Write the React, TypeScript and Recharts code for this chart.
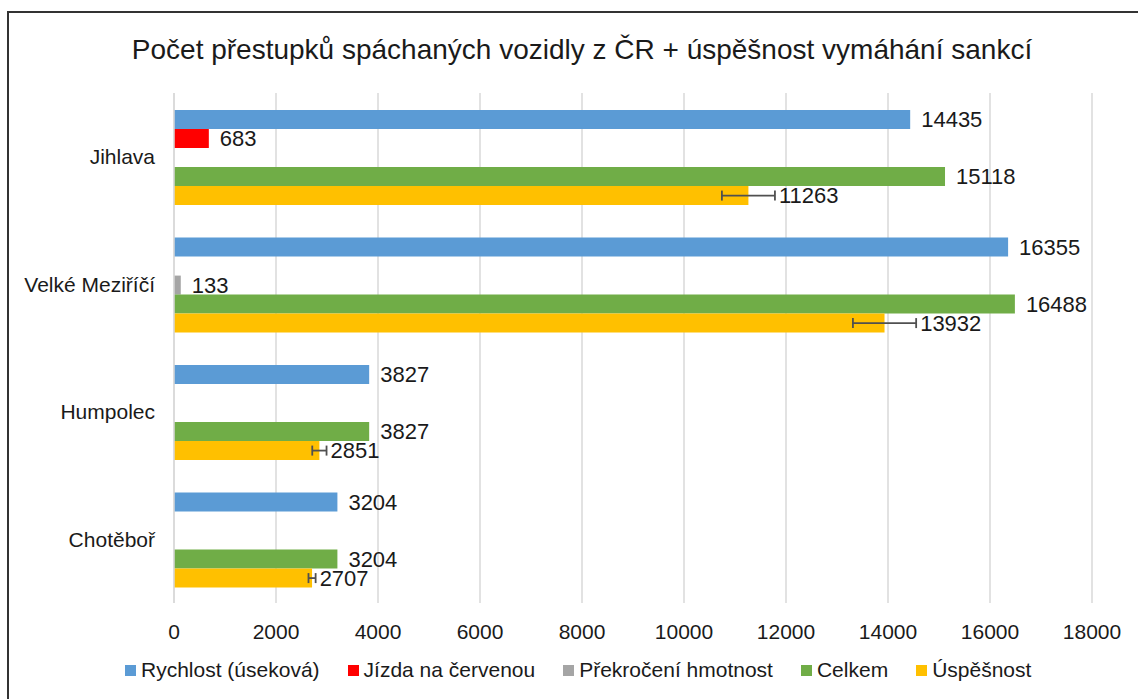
import React from 'react';
import { BarChart, Bar, XAxis, YAxis, CartesianGrid, Legend, LabelList, ErrorBar } from 'recharts';

const cities = ['Jihlava', 'Velké Meziříčí', 'Humpolec', 'Chotěboř'];
const rychlost = [14435, 16355, 3827, 3204];
const cervena = [683, null, null, null];
const hmotnost = [null, 133, null, null];
const celkem = [15118, 16488, 3827, 3204];
const uspesnost = [11263, 13932, 2851, 2707];
const uspesnostErr = [520, 620, 140, 70];
const xTicks = [0, 2000, 4000, 6000, 8000, 10000, 12000, 14000, 16000, 18000];

const series = [
  { key: 'rychlost', name: 'Rychlost (úseková)', color: '#5B9BD5' },
  { key: 'cervena', name: 'Jízda na červenou', color: '#FF0000' },
  { key: 'hmotnost', name: 'Překročení hmotnost', color: '#A5A5A5' },
  { key: 'celkem', name: 'Celkem', color: '#70AD47' },
  { key: 'uspesnost', name: 'Úspěšnost', color: '#FFC000' },
];

const data = cities.map((city, i) => ({
  city,
  rychlost: rychlost[i],
  cervena: cervena[i],
  hmotnost: hmotnost[i],
  celkem: celkem[i],
  uspesnost: uspesnost[i],
  uspesnostErr: uspesnostErr[i],
}));

const FONT = '"Liberation Sans", Arial, sans-serif';
const TEXT = '#1a1a1a';

// plain value label to the right of the bar, skipped when there's no value
const valueLabel = (props: any) => {
  const { x, y, width, height, value } = props;
  if (value == null || value === 0) return null;
  return (
    <text x={x + width + 11} y={y + height / 2} dy="0.35em" fontSize={22} fill={TEXT} fontFamily={FONT}>
      {value}
    </text>
  );
};

// label for Úspěšnost sits past the end of the error bar
const successLabel = (props: any) => {
  const { x, y, width, height, value, index } = props;
  if (value == null) return null;
  const errPx = (width / value) * uspesnostErr[index];
  return (
    <text x={x + width + errPx + 4} y={y + height / 2} dy="0.35em" fontSize={22} fill={TEXT} fontFamily={FONT}>
      {value}
    </text>
  );
};

const renderLegend = () => (
  <div style={{ display: 'flex', alignItems: 'center', fontFamily: FONT, fontSize: 21, color: TEXT }}>
    {series.map(s => (
      <div key={s.key} style={{ display: 'flex', alignItems: 'center', marginRight: 28 }}>
        <span style={{ width: 11, height: 11, background: s.color, marginRight: 5, display: 'inline-block' }} />
        <span>{s.name}</span>
      </div>
    ))}
  </div>
);

export default function App() {
  return (
    <div style={{ position: 'absolute', left: 0, top: 0, width: 1138, height: 699, overflow: 'hidden', background: '#fff' }}>
      <div
        style={{
          position: 'absolute',
          left: 7,
          top: 11,
          width: 1200,
          height: 760,
          border: '2px solid #333',
          boxSizing: 'border-box',
        }}
      />
      <div
        style={{
          position: 'absolute',
          top: 34,
          left: 0,
          width: 1164,
          textAlign: 'center',
          fontFamily: FONT,
          fontSize: 28,
          color: TEXT,
        }}
      >
        Počet přestupků spáchaných vozidly z ČR + úspěšnost vymáhání sankcí
      </div>
      <div style={{ position: 'absolute', left: 0, top: 0 }}>
        <BarChart
          width={1138}
          height={699}
          data={data}
          layout="vertical"
          margin={{ top: 93, right: 46, bottom: 56, left: 0 }}
          barCategoryGap="13.4%"
          barGap={0}
        >
          <CartesianGrid horizontal={false} stroke="#d9d9d9" strokeWidth={1.5} />
          <XAxis
            type="number"
            domain={[0, 18000]}
            ticks={xTicks}
            axisLine={false}
            tickLine={false}
            height={40}
            tickMargin={15}
            tick={{ fontSize: 21, fill: TEXT, fontFamily: FONT }}
          />
          <YAxis
            type="category"
            dataKey="city"
            width={174}
            axisLine={{ stroke: '#d9d9d9', strokeWidth: 1.5 }}
            tickLine={false}
            tickMargin={13}
            tick={{ fontSize: 21, fill: TEXT, fontFamily: FONT }}
          />
          <Legend
            layout="horizontal"
            verticalAlign="middle"
            align="center"
            content={renderLegend}
            wrapperStyle={{ top: 658, left: 125, width: 1000 }}
          />
          {series.map(s => (
            <Bar key={s.key} dataKey={s.key} name={s.name} fill={s.color} isAnimationActive={false}>
              {s.key === 'uspesnost' ? (
                <>
                  <ErrorBar dataKey="uspesnostErr" direction="x" width={5} stroke="#505050" strokeWidth={1.8} />
                  <LabelList dataKey={s.key} content={successLabel} />
                </>
              ) : (
                <LabelList dataKey={s.key} content={valueLabel} />
              )}
            </Bar>
          ))}
        </BarChart>
      </div>
    </div>
  );
}
